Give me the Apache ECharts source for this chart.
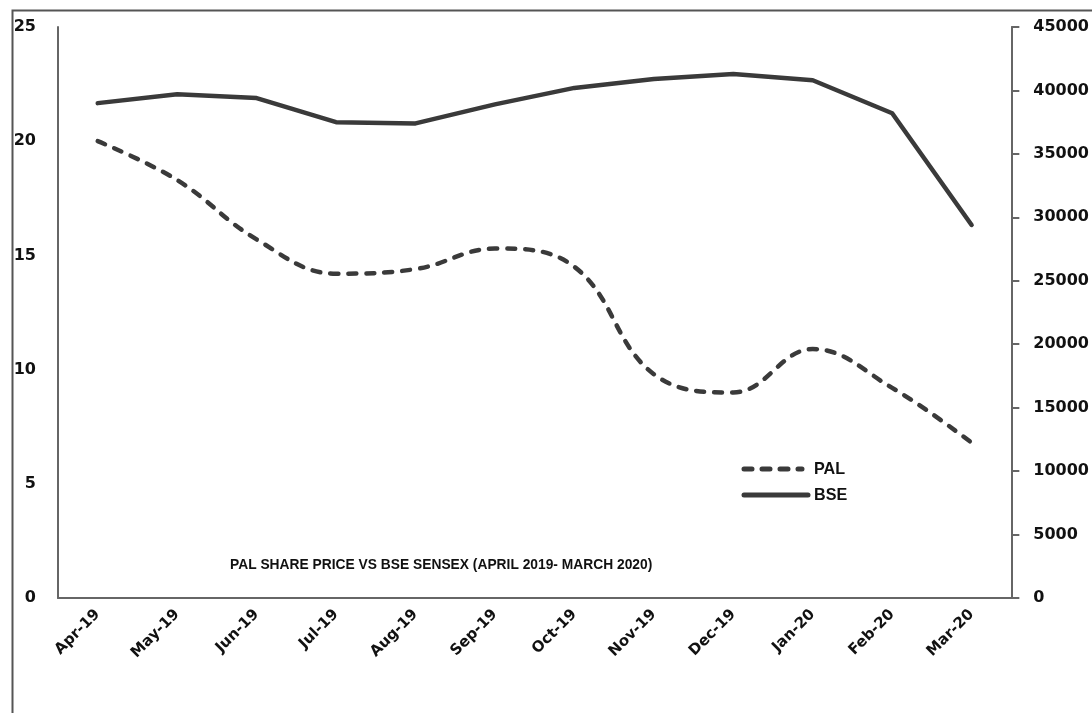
<!DOCTYPE html>
<html>
<head>
<meta charset="utf-8">
<script src="https://cdn.jsdelivr.net/npm/echarts@6/dist/echarts.min.js"></script>
<style>
html,body{margin:0;padding:0;background:#fff;}
#chart{width:1092px;height:713px;}
</style>
</head>
<body>
<div id="chart"></div>
<script>
const categories = ['Apr-19','May-19','Jun-19','Jul-19','Aug-19','Sep-19','Oct-19','Nov-19','Dec-19','Jan-20','Feb-20','Mar-20'];
const palValues = [20.0, 18.3, 15.7, 14.2, 14.4, 15.3, 14.5, 9.8, 9.0, 10.9, 9.2, 6.8];
const bseValues = [39000, 39700, 39400, 37500, 37400, 38900, 40200, 40900, 41300, 40800, 38200, 29400];
const seriesNames = ['PAL', 'BSE'];
const chartTitle = 'PAL SHARE PRICE VS BSE SENSEX (APRIL 2019- MARCH 2020)';

const chart = echarts.init(document.getElementById('chart'), null, {renderer: 'canvas'});
const axisFont = {fontFamily: 'DejaVu Sans', fontWeight: 'bold', fontSize: 16, color: '#111'};
const lineColor = '#3a3a3a';
const palDash = [8, 10];
const legendFont = 'bold 17px "Liberation Sans"';

chart.setOption({
  backgroundColor: '#fff',
  animation: false,
  graphic: [
    {type: 'rect', left: 10, top: 8, shape: {width: 1100, height: 720},
     style: {fill: 'none', stroke: '#555', lineWidth: 2}},
    {type: 'text', x: 230, y: 565, scaleX: 0.92,
     style: {text: chartTitle, font: 'bold 15px "Liberation Sans"', fill: '#111', textVerticalAlign: 'middle'}},
    // legend
    {type: 'line', shape: {x1: 744, y1: 469, x2: 802, y2: 469},
     style: {stroke: lineColor, lineWidth: 5, lineDash: palDash, lineCap: 'round'}},
    {type: 'text', x: 814, y: 469, scaleX: 0.95,
     style: {text: seriesNames[0], font: legendFont, fill: '#111', textVerticalAlign: 'middle'}},
    {type: 'line', shape: {x1: 744, y1: 495, x2: 808, y2: 495},
     style: {stroke: lineColor, lineWidth: 5, lineCap: 'round'}},
    {type: 'text', x: 814, y: 495, scaleX: 0.95,
     style: {text: seriesNames[1], font: legendFont, fill: '#111', textVerticalAlign: 'middle'}}
  ],
  grid: {left: 58, right: 80, top: 27, bottom: 115},
  xAxis: {
    type: 'category',
    data: categories,
    boundaryGap: true,
    axisLine: {lineStyle: {color: '#666', width: 2}},
    axisTick: {show: false},
    axisLabel: Object.assign({rotate: 45, margin: 14, interval: 0}, axisFont, {fontSize: 15})
  },
  yAxis: [{
    type: 'value', min: 0, max: 25, interval: 5, position: 'left',
    axisLine: {show: true, lineStyle: {color: '#666', width: 2}},
    axisTick: {show: false},
    splitLine: {show: false},
    axisLabel: Object.assign({margin: 22}, axisFont)
  }, {
    type: 'value', min: 0, max: 45000, interval: 5000, position: 'right',
    axisLine: {show: true, lineStyle: {color: '#666', width: 2}},
    axisTick: {show: true, length: 8, lineStyle: {color: '#666', width: 2}},
    splitLine: {show: false},
    axisLabel: Object.assign({margin: 22, formatter: v => String(v)}, axisFont)
  }],
  series: [{
    name: seriesNames[0], type: 'line', yAxisIndex: 0,
    data: palValues, smooth: 0.4, symbol: 'none',
    itemStyle: {color: lineColor},
    lineStyle: {color: lineColor, width: 4.5, type: palDash, cap: 'round'}
  }, {
    name: seriesNames[1], type: 'line', yAxisIndex: 1,
    data: bseValues, smooth: false, symbol: 'none',
    itemStyle: {color: lineColor},
    lineStyle: {color: lineColor, width: 4.5, cap: 'round', join: 'round'}
  }]
});
</script>
</body>
</html>
